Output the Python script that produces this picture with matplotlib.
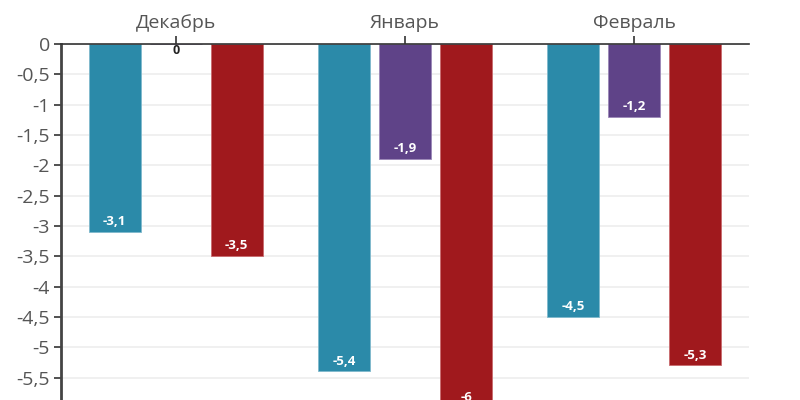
import numpy as np
import matplotlib.pyplot as plt
from matplotlib.ticker import FuncFormatter

plt.rcParams["font.family"] = ["Open Sans", "DejaVu Sans"]

# ---------------------------------------------------------------------------
# Data
# ---------------------------------------------------------------------------
months = ["Декабрь", "Январь", "Февраль"]
series_a = [-3.1, -5.4, -4.5]   # teal
series_b = [0.0, -1.9, -1.2]    # purple
series_c = [-3.5, -6.0, -5.3]   # red
y_ticks = [0, -0.5, -1, -1.5, -2, -2.5, -3, -3.5, -4, -4.5, -5, -5.5]

colors = ["#2b8aa9", "#5f4388", "#a0191d"]
edges = ["#7fb9cc", "#9c87b8", "#c96a6d"]


def fmt(v):
    s = f"{v:g}".replace(".", ",")
    return s


fig = plt.figure(figsize=(8, 4), dpi=100)
ax = fig.add_axes([61 / 800, 0, 688 / 800, 1 - 44 / 400])

x = np.arange(len(months))
width = 0.227
step = 0.266
for i, (vals, c, ec) in enumerate(zip([series_a, series_b, series_c], colors, edges)):
    xs = x + (i - 1) * step
    ax.bar(xs, vals, width, color=c, edgecolor=ec, linewidth=0.6, zorder=3)
    for xi, v in zip(xs, vals):
        if v == 0:
            ax.annotate("0", (xi, 0), xytext=(0, -5), textcoords="offset points",
                        ha="center", va="center", fontsize=9, fontweight="bold",
                        color="#222222", zorder=5)
        else:
            ax.annotate(fmt(v), (xi, v), xytext=(0, 7.5), textcoords="offset points",
                        ha="center", va="center", fontsize=9.5, fontweight="bold",
                        color="white", zorder=5, annotation_clip=False)

ax.set_xlim(-0.5, 2.5)
ax.set_ylim(-5.87, 0)
ax.set_yticks(y_ticks)
ax.yaxis.set_major_formatter(FuncFormatter(lambda v, _: fmt(round(v, 2))))
ax.grid(axis="y", color="#eeeeee", linewidth=1.2, zorder=0)

ax.xaxis.tick_top()
ax.set_xticks(x)
ax.set_xticklabels(months)
ax.tick_params(axis="x", direction="out", length=6, width=1.2, color="#333333",
               labelsize=14, labelcolor="#555555", pad=3)
ax.tick_params(axis="y", direction="out", length=5, width=1.2, color="#333333",
               labelsize=14, labelcolor="#555555", pad=3)

for s in ["right", "bottom"]:
    ax.spines[s].set_visible(False)
ax.spines["top"].set_color("#333333")
ax.spines["top"].set_linewidth(1.2)
ax.spines["left"].set_color("#444444")
ax.spines["left"].set_linewidth(2)
ax.spines["top"].set_zorder(4)

fig.savefig("out.png", dpi=100)
